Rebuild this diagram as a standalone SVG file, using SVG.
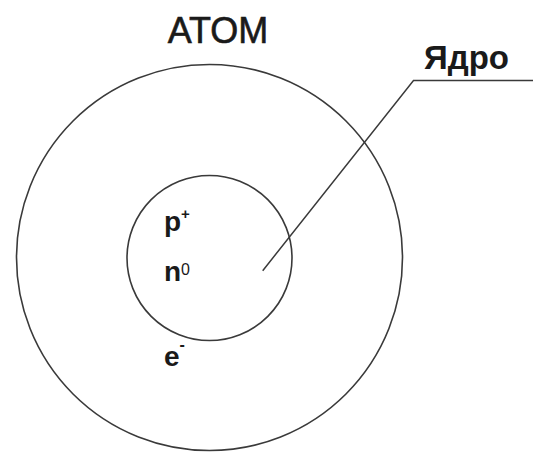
<svg xmlns="http://www.w3.org/2000/svg" width="533" height="452" viewBox="0 0 533 452">
<style>
.ring{fill:none;stroke:#3a3a3a;stroke-width:1.6}
.lead{fill:none;stroke:#3a3a3a;stroke-width:1.5}
.t{font-family:"Liberation Sans",Arial,sans-serif;fill:#1a1a1a}
.b{font-weight:bold}
</style>
<rect width="533" height="452" fill="#ffffff"/>
<g id="atom">
<circle class="ring" cx="209.5" cy="257.5" r="193"/>
<text class="t" x="218" y="43" font-size="36" text-anchor="middle" stroke="#1a1a1a" stroke-width="0.6">ATOM</text>
<text class="t b" x="164" y="366" font-size="28">e<tspan font-size="16" dy="-16">-</tspan></text>
</g>
<g id="nucleus">
<circle class="ring" cx="209.5" cy="258" r="82.5"/>
<text class="t b" x="164" y="231" font-size="28">p<tspan font-size="15" dy="-12">+</tspan></text>
<text class="t b" x="164" y="281" font-size="28">n<tspan font-size="16" font-weight="normal" dy="-6">0</tspan></text>
</g>
<g id="label-nucleus">
<text class="t b" x="424" y="69" font-size="33">Ядро</text>
</g>
<g id="connectors">
<polyline class="lead" points="262.7,270.7 413.5,80.5 533,80.5"/>
</g>
</svg>
